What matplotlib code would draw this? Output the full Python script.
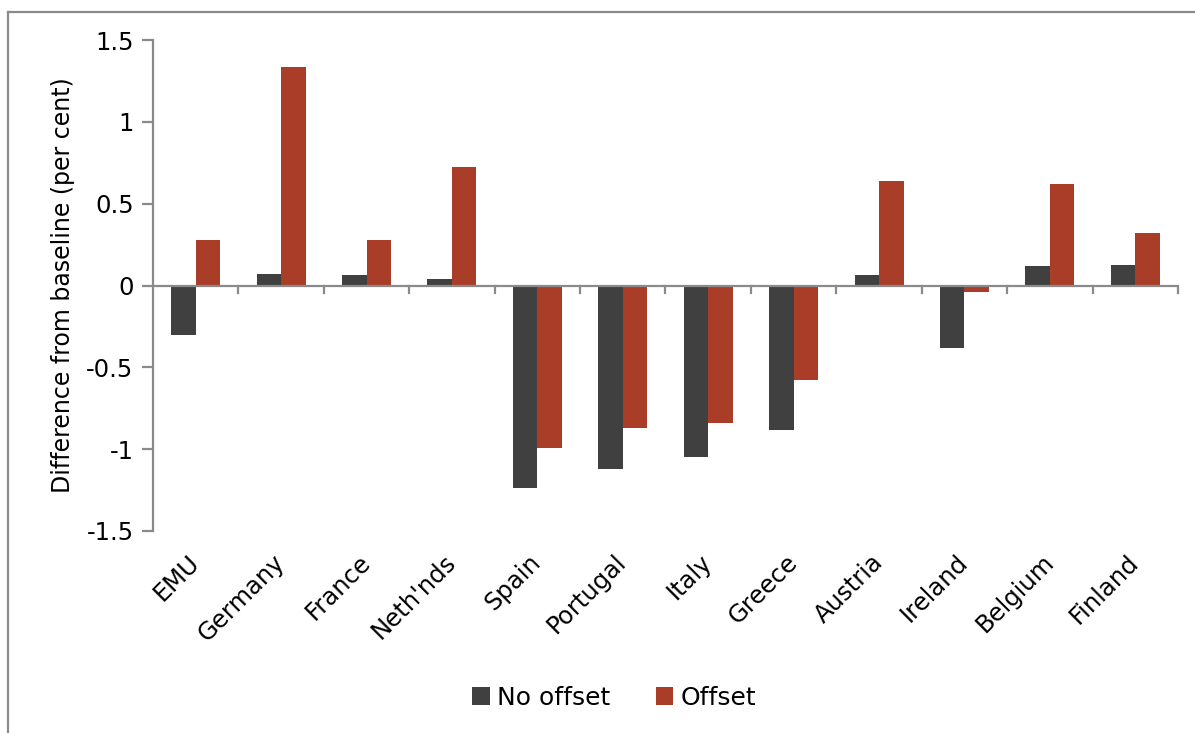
import numpy as np
import matplotlib.pyplot as plt
from matplotlib.lines import Line2D

countries = ["EMU", "Germany", "France", "Neth'nds", "Spain", "Portugal",
             "Italy", "Greece", "Austria", "Ireland", "Belgium", "Finland"]
no_offset = [-0.30, 0.07, 0.065, 0.04, -1.24, -1.12, -1.05, -0.885, 0.065, -0.38, 0.12, 0.125]
offset = [0.28, 1.335, 0.275, 0.725, -0.99, -0.87, -0.84, -0.575, 0.64, -0.04, 0.62, 0.32]
y_ticks = [-1.5, -1, -0.5, 0, 0.5, 1, 1.5]
y_ticklabels = ["-1.5", "-1", "-0.5", "0", "0.5", "1", "1.5"]

DARK = "#404040"
RED = "#A93D28"
AXIS = "#8a8a8a"

plt.rcParams["font.family"] = ["DejaVu Sans"]

fig = plt.figure(figsize=(11.95, 7.33), dpi=100)
ax = fig.add_axes([0.128, 0.2756, 0.8578, 0.6698])

x = np.arange(len(countries))
w = 0.287
ax.bar(x - w / 2, no_offset, width=w, color=DARK, label="No offset", zorder=2)
ax.bar(x + w / 2, offset, width=w, color=RED, label="Offset", zorder=2)

ax.set_xlim(-0.5, len(countries) - 0.5)
ax.set_ylim(-1.5, 1.5)

# horizontal axis drawn at zero with ticks between categories
for side in ["top", "right", "bottom"]:
    ax.spines[side].set_visible(False)
ax.spines["left"].set_color(AXIS)
ax.spines["left"].set_linewidth(1.6)
ax.axhline(0, color=AXIS, lw=1.6, zorder=3)
for b in np.arange(0.5, len(countries) + 0.5, 1.0):
    ax.plot([b, b], [0, -0.045], color=AXIS, lw=1.6, zorder=3, clip_on=False)

ax.set_yticks(y_ticks)
ax.set_yticklabels(y_ticklabels, fontsize=17.5)
ax.tick_params(axis="y", direction="out", length=8, width=1.6, color=AXIS, pad=6)

ax.set_xticks(x)
ax.set_xticklabels(countries, fontsize=17.5, rotation=45, ha="right", va="center",
                   rotation_mode="anchor")
ax.tick_params(axis="x", length=0, pad=20)

ax.set_ylabel("Difference from baseline (per cent)", fontsize=17, labelpad=8)

ax.legend(loc="center", bbox_to_anchor=(0.45, -0.34), ncol=2, frameon=False,
          fontsize=18, handlelength=0.7, handleheight=0.7, handletextpad=0.3,
          columnspacing=1.8)

# outer chart frame
fig.add_artist(Line2D([8 / 1195, 8 / 1195], [0, 1 - 12 / 733], color=AXIS, lw=1.6))
fig.add_artist(Line2D([8 / 1195, 1], [1 - 12 / 733, 1 - 12 / 733], color=AXIS, lw=1.6))

fig.savefig("out.png", dpi=100)
